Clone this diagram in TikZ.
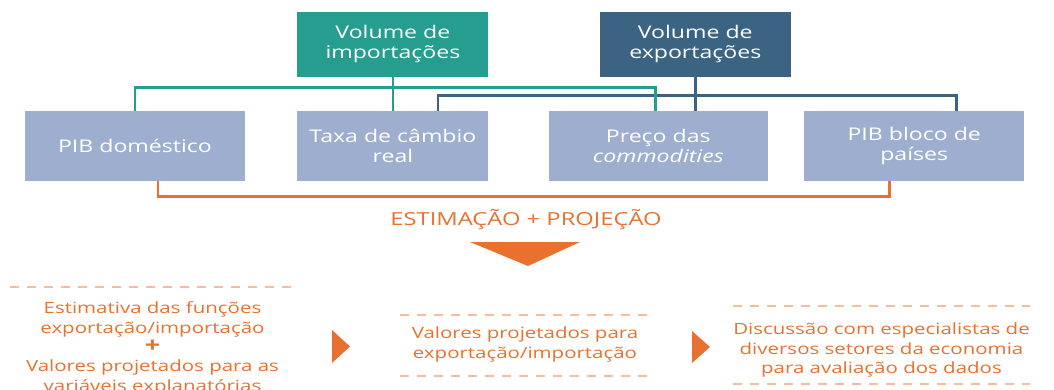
\documentclass[tikz,border=0pt]{standalone}
\usepackage{fontspec}
\setmainfont[FakeStretch=1.32]{Open Sans}
\usetikzlibrary{positioning}
\definecolor{impteal}{HTML}{259D8F}
\definecolor{expblue}{HTML}{3A6482}
\definecolor{varbox}{HTML}{9EAECE}
\definecolor{estorange}{HTML}{E8712F}
\definecolor{dashorange}{HTML}{F6BC9C}

\tikzset{
  volnode/.style={text=white, minimum width=191pt, minimum height=65pt, align=center,
    inner sep=0pt, font=\fontsize{17.5}{20}\selectfont},
  varnode/.style={fill=varbox, text=white, minimum width=220pt, minimum height=70pt,
    align=center, inner sep=0pt, font=\fontsize{17.5}{20}\selectfont},
  stagenode/.style={text=estorange, align=center, inner sep=0pt,
    font=\fontsize{15.5}{19.3}\selectfont},
  impline/.style={draw=impteal, line width=2.8pt},
  expline/.style={draw=expblue, line width=2.8pt},
  estline/.style={draw=estorange, line width=2.8pt},
  dashline/.style={draw=dashorange, line width=1.8pt, dash pattern=on 9pt off 8pt},
}

\begin{document}
\begin{tikzpicture}[x=1pt, y=-1pt, node distance=34pt]
\useasboundingbox (0,0) rectangle (1054,390);

% variables
\node[varnode] (pibd) at (135,146) {PIB doméstico};
\node[varnode, minimum width=191pt] (taxa) [right=52pt of pibd] {Taxa de câmbio\\real};
\node[varnode, minimum width=219pt] (preco) [right=60pt of taxa] {Preço das\\\textit{commodities}};
\node[varnode] (bloco) [right=36pt of preco] {PIB bloco de\\países};

% volumes
\node[volnode, fill=impteal] (imp) [above=of taxa] {Volume de\\importações};
\node[volnode, fill=expblue] (exp) [right=111pt of imp] {Volume de\\exportações};

% connectors
\draw[expline] ([xshift=45pt]taxa.north) -- ++(0,-15) -| ([xshift=42pt]bloco.north);
\draw[expline] (exp.south) -- (exp.south |- preco.north);
\draw[impline] (imp) -- (taxa);
\draw[impline] (pibd.north) -- ++(0,-23) -| ([xshift=-3pt]preco.north);
\draw[estline] ([xshift=23pt]pibd.south) -- ++(0,15) -| ([xshift=-25pt]bloco.south);

\node[stagenode, font=\fontsize{18}{20}\selectfont] (est) at (526,220) {ESTIMAÇÃO + PROJEÇÃO};
\fill[estorange] (470,242) -- (580,242) -- (528,266) -- cycle;

% stages
\node[stagenode] (func) at (152.5,348.5)
  {Estimativa das funções\\exportação/importação\\{\fontsize{21}{19.3}\selectfont\bfseries +}\\Valores projetados para as\\variáveis explanatórias};
\node[stagenode] (proj) at (525,344.5)
  {Valores projetados para\\exportação/importação};
\node[stagenode] (disc) at (881.5,350)
  {Discussão com especialistas de\\diversos setores da economia\\para avaliação dos dados};

\draw[dashline] (10,287) -- (295,287);
\draw[dashline] (400,315) -- (650,315);
\draw[dashline] (400,376) -- (650,376);
\draw[dashline] (733,306) -- (1030,306);
\draw[dashline] (733,384) -- (1030,384);

\fill[estorange] (332,330) -- (350,346.5) -- (332,363) -- cycle;
\fill[estorange] (692,331) -- (710,347) -- (692,363) -- cycle;
\end{tikzpicture}
\end{document}
